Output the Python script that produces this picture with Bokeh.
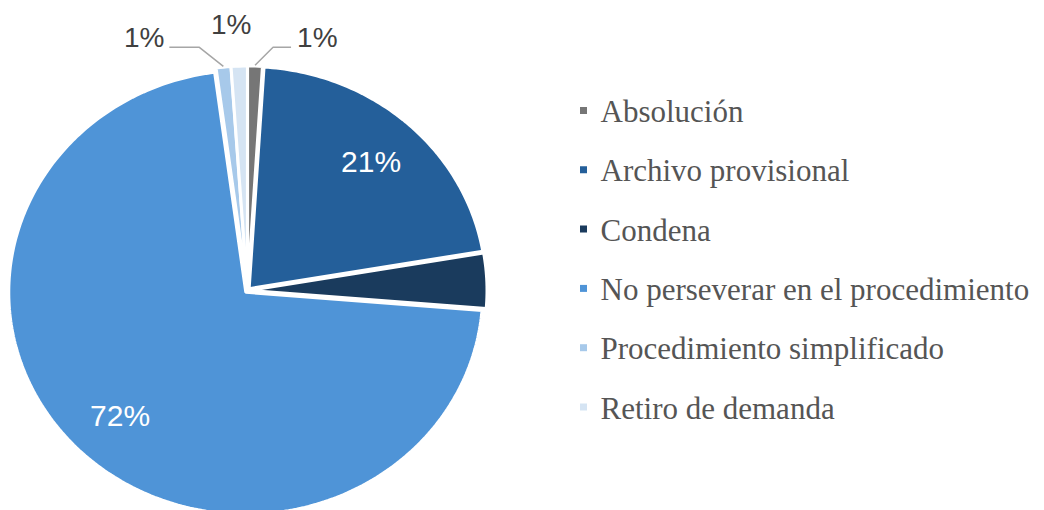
import numpy as np
from bokeh.plotting import figure
from bokeh.models import Range1d
from bokeh.embed import file_html
from bokeh.resources import INLINE
from bokeh.core.properties import value

# ---------------- data ----------------
categories = [
    "Absolución",
    "Archivo provisional",
    "Condena",
    "No perseverar en el procedimiento",
    "Procedimiento simplificado",
    "Retiro de demanda",
]
shares = [1.0, 21.3, 4.0, 71.6, 1.0, 1.1]
pct_labels = ["1%", "21%", "", "72%", "1%", "1%"]

# ---------------- style ----------------
colors = ["#767676", "#245f9a", "#1a3b5d", "#4f94d7", "#a7c9ea", "#d5e4f3"]
CX, CY = 247.0, 290.0      # pie centre (page pixels)
RX, RY = 237.0, 222.0      # horizontal / vertical radius
EXPLODE = 2.5
INNER_FRAC = 0.78
# outside label styles: leader elbow offset, horizontal run, text offset, alignment
outside = {
    0: dict(elbow=(18, -18), run=18, text=(6, -10), align="left"),
    4: dict(elbow=(-24, -19), run=-30, text=(-5, -10), align="right"),
    5: dict(elbow=None, run=0, text=(-8, -41), align="center"),
}

W, H = 1044, 510
p = figure(width=W, height=H, output_backend="svg", toolbar_location=None,
           x_range=Range1d(0, W), y_range=Range1d(H, 0),
           x_axis_location=None, y_axis_location=None, min_border=0)
p.grid.grid_line_color = None
p.outline_line_color = None
p.background_fill_color = "white"
p.border_fill_color = "white"

frac = np.array(shares) / np.sum(shares)
ends = np.cumsum(frac) * 2 * np.pi
starts = ends - frac * 2 * np.pi
mids = (starts + ends) / 2

xs, ys = [], []
for s, e, m in zip(starts, ends, mids):
    ox, oy = EXPLODE * np.sin(m), -EXPLODE * np.cos(m)
    n = max(4, int(np.degrees(e - s)) + 2)
    t = np.linspace(s, e, n)
    xs.append([CX + ox] + list(CX + ox + RX * np.sin(t)))
    ys.append([CY + oy] + list(CY + oy - RY * np.cos(t)))

p.patches(xs, ys, fill_color=colors, line_color="white", line_width=3)

# inside labels
for i, (lab, f, m) in enumerate(zip(pct_labels, frac, mids)):
    if lab and i not in outside:
        x = CX + INNER_FRAC * RX * np.sin(m)
        y = CY - INNER_FRAC * RY * np.cos(m)
        p.text([x], [y], text=[lab], text_color="white", text_align="center",
               text_baseline="middle", text_font=value("Liberation Sans"),
               text_font_size="30px")

# outside labels with leader lines
for i, cfg in outside.items():
    m = mids[i]
    ax = CX + 1.015 * RX * np.sin(m)
    ay = CY - 1.015 * RY * np.cos(m)
    if cfg["elbow"] is not None:
        ex, ey = ax + cfg["elbow"][0], ay + cfg["elbow"][1]
        hx = ex + cfg["run"]
        p.line([ax, ex, hx], [ay, ey, ey], line_color="#a6a6a6", line_width=1.5)
        tx, ty = hx + cfg["text"][0], ey + cfg["text"][1]
    else:
        tx, ty = ax + cfg["text"][0], ay + cfg["text"][1]
    p.text([tx], [ty], text=[pct_labels[i]], text_color="#404040",
           text_align=cfg["align"], text_baseline="middle",
           text_font=value("Liberation Sans"), text_font_size="28px")

# legend
LEG_X, LEG_Y0, LEG_PITCH = 583, 110, 59.3
ly = [LEG_Y0 + k * LEG_PITCH for k in range(len(categories))]
p.scatter([LEG_X] * len(categories), ly, marker="square",
          size=7, fill_color=colors, line_color=None)
p.text([LEG_X + 17] * len(categories), [y + 1 for y in ly], text=categories,
       text_color="#555555", text_align="left", text_baseline="middle",
       text_font=value("Liberation Serif"), text_font_size="31px")

open("out.html", "w").write(file_html(p, INLINE))
